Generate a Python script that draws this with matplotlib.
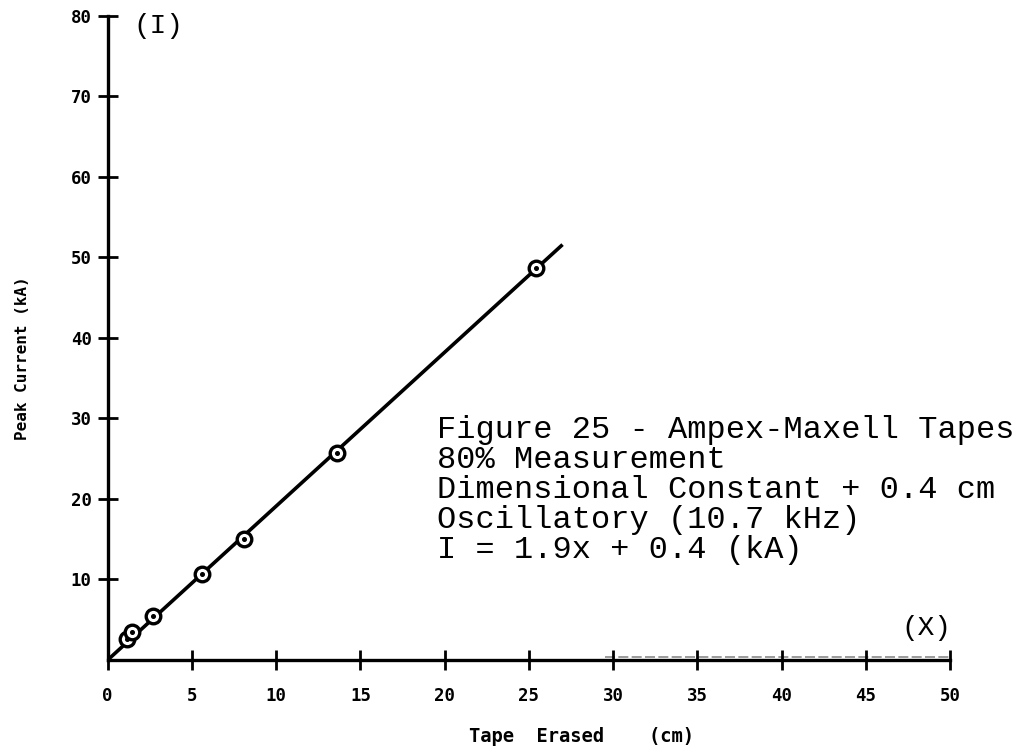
import matplotlib
matplotlib.use("Agg")
import matplotlib.pyplot as plt

# ---- data ----
tape_erased = [1.13, 1.47, 2.7, 5.58, 8.08, 13.63, 25.4]      # cm
peak_current = [2.6, 3.5, 5.5, 10.65, 15.0, 25.7, 48.7]      # kA
fit_x = [0.0, 27.0]
fit_y = [0.0, 51.6]
x_ticks = [0, 5, 10, 15, 20, 25, 30, 35, 40, 45, 50]
y_ticks = [10, 20, 30, 40, 50, 60, 70, 80]
scan_line_x = [29.5, 50.0]
scan_line_y = [0.4, 0.4]
caption_lines = [
    "Figure 25 - Ampex-Maxell Tapes",
    "80% Measurement",
    "Dimensional Constant + 0.4 cm",
    "Oscillatory (10.7 kHz)",
    "I = 1.9x + 0.4 (kA)",
]

fig = plt.figure(figsize=(10.19, 7.47), dpi=100)
ax = fig.add_axes([0.1057, 0.1165, 0.9323 - 0.1057, 0.9786 - 0.1165])

ax.set_xlim(0, 50)
ax.set_ylim(0, 80)

# faint scan double line near the x axis
ax.plot(scan_line_x, scan_line_y, color="#8a8a8a", lw=1.2, ls=(0, (6, 2)),
        clip_on=False, zorder=1)

# fitted line
ax.plot(fit_x, fit_y, color="black", lw=2.6, solid_capstyle="butt", zorder=2)

# data points: open circles with a dot
ax.plot(tape_erased, peak_current, ls="none", marker="o", ms=10.5,
        mfc="white", mec="black", mew=2.4, zorder=3)
ax.plot(tape_erased, peak_current, ls="none", marker="o", ms=2.6,
        mfc="black", mec="black", zorder=4)

# spines
for s in ("top", "right"):
    ax.spines[s].set_visible(False)
for s in ("left", "bottom"):
    ax.spines[s].set_linewidth(2.4)

tick_font = {"family": "DejaVu Sans Mono", "weight": "bold", "size": 12.5}
ax.set_xticks(x_ticks)
ax.set_xticklabels([str(v) for v in x_ticks], fontdict=tick_font)
ax.set_yticks(y_ticks)
ax.set_yticklabels([str(v) for v in y_ticks], fontdict=tick_font)
ax.tick_params(axis="both", direction="inout", length=15, width=2.0,
               colors="black")
ax.tick_params(axis="x", pad=12)
ax.tick_params(axis="y", pad=4)

ax.set_xlabel("Tape  Erased    (cm)", family="DejaVu Sans Mono",
              weight="bold", fontsize=13.5, va="top")
ax.xaxis.set_label_coords(0.5626, -0.104)
ax.set_ylabel("Peak Current (kA)", family="DejaVu Sans Mono",
              weight="bold", fontsize=11.5)
ax.yaxis.set_label_coords(-0.092, 0.469)

# axis letters
ax.text(1.5, 78.8, "(I)", family="Liberation Mono", fontsize=20,
        ha="left", va="center", clip_on=False)
ax.text(50.1, 4.0, "(X)", family="Liberation Mono", fontsize=20,
        ha="right", va="center", clip_on=False)

# caption block
y0 = 0.424
for i, line in enumerate(caption_lines):
    fig.text(0.429, y0 - i * 0.0402, line, family="Liberation Mono",
             fontsize=23, ha="left", va="center")

fig.savefig("out.png", dpi=100)
